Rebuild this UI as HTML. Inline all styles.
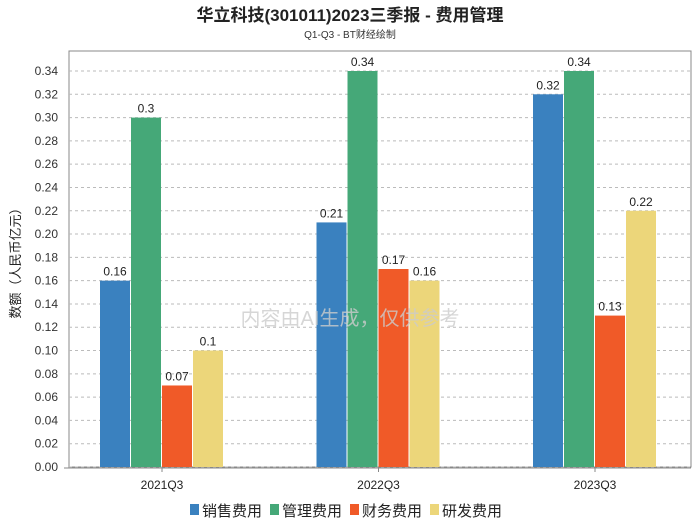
<!DOCTYPE html>
<html><head><meta charset="utf-8"><style>
body{margin:0;background:#fff;width:700px;height:524px;overflow:hidden;font-family:"Liberation Sans","Noto Sans CJK SC",sans-serif}
</style></head><body>
<svg id="chart" width="700" height="524" xmlns="http://www.w3.org/2000/svg">
<text x="350" y="21" text-anchor="middle" font-size="17" font-weight="bold" fill="#222" font-family="Liberation Sans,Noto Sans CJK SC,sans-serif">华立科技(301011)2023三季报 - 费用管理</text>
<text x="350" y="38" text-anchor="middle" font-size="10" fill="#333" font-family="Liberation Sans,Noto Sans CJK SC,sans-serif">Q1-Q3 - BT财经绘制</text>
<rect x="69" y="51" width="622" height="416" fill="none" stroke="#888"/>
<g id="grid"></g><g id="bars"></g><g id="labels"></g>
<text x="350" y="325" text-anchor="middle" font-size="20" fill="#ccc" opacity="0.8" font-family="Liberation Sans,Noto Sans CJK SC,sans-serif">内容由AI生成，仅供参考</text>
<text x="20" y="260" transform="rotate(-90 20 260)" text-anchor="middle" font-size="13" fill="#222" font-family="Liberation Sans,Noto Sans CJK SC,sans-serif">数额（人民币亿元）</text>
<g id="legend"></g>
</svg>
<script>
const categories=["2021Q3","2022Q3","2023Q3"];
const seriesNames=["销售费用","管理费用","财务费用","研发费用"];
const sales=[0.16,0.21,0.32];
const admin=[0.30,0.34,0.34];
const finance=[0.07,0.17,0.13];
const rnd=[0.10,0.16,0.22];
const yTicks=[0,0.02,0.04,0.06,0.08,0.10,0.12,0.14,0.16,0.18,0.20,0.22,0.24,0.26,0.28,0.30,0.32,0.34];
const colors=["#3a81bf","#45a878","#f05a28","#ecd67a"];
const series=[sales,admin,finance,rnd];
const NS="http://www.w3.org/2000/svg";
const y=v=>467-v*1164.7;
const xc=i=>162+216.5*i;
function mk(t,a,p){const e=document.createElementNS(NS,t);for(const k in a)e.setAttribute(k,a[k]);document.getElementById(p).appendChild(e);return e;}
yTicks.forEach(v=>{
 const g=mk("line",{x1:69,x2:691,y1:y(v),y2:y(v),stroke:"#bbb","stroke-dasharray":"3,3"},"grid");
 
 
 const t=mk("text",{x:58,y:y(v)+4,"text-anchor":"end","font-size":12,fill:"#333"},"grid");
 t.textContent=v.toFixed(2);
 
 
});
const ax=mk("line",{x1:64,x2:691,y1:468,y2:468,stroke:"#888"},"grid");


categories.forEach((c,i)=>{
 const tk=mk("line",{x1:xc(i),x2:xc(i),y1:468,y2:472,stroke:"#888"},"grid");
 
 
 const t=mk("text",{x:xc(i),y:489,"text-anchor":"middle","font-size":12,fill:"#222"},"labels");
 t.textContent=c;
 
 
 series.forEach((s,j)=>{
  const x0=xc(i)-62+j*31;
  const r=mk("rect",{x:x0,y:y(s[i]),width:30,height:467-y(s[i]),fill:colors[j]},"bars");
  
  
  const l=mk("text",{x:x0+15,y:y(s[i])-5,"text-anchor":"middle","font-size":12,fill:"#222"},"labels");
  l.textContent=String(s[i]);
  
  
 });
});
seriesNames.forEach((n,j)=>{
 const lx=190+j*80;
 const r=mk("rect",{x:lx,y:504,width:9,height:11,fill:colors[j]},"legend");
 
 
 const t=mk("text",{x:lx+12,y:516,"font-size":15,fill:"#222"},"legend");
 t.textContent=n;
 
 
});
</script>
</body></html>
